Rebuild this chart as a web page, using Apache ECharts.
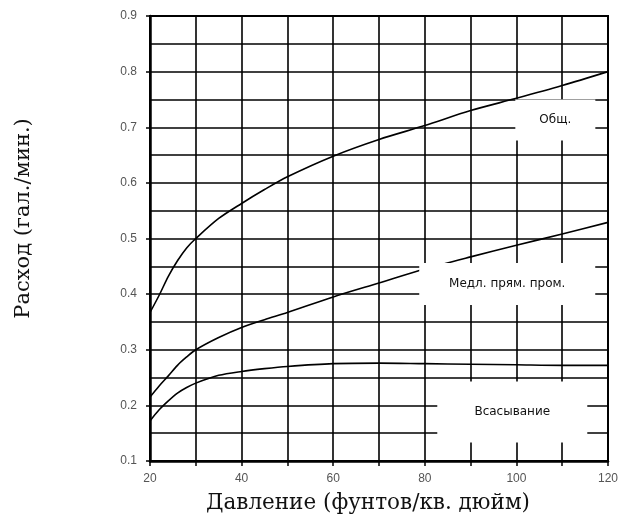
<!DOCTYPE html>
<html>
<head>
<meta charset="utf-8">
<script src="https://cdn.jsdelivr.net/npm/echarts@6/dist/echarts.min.js"></script>
<style>html,body{margin:0;padding:0;background:#fff;}#c{width:627px;height:519px;}</style>
</head>
<body>
<div id="c"></div>
<script>
var pressure = [20, 22, 24, 26, 28, 30, 35, 40, 45, 50, 60, 70, 80, 90, 100, 110, 120];
var totalFlow = [0.367, 0.398, 0.432, 0.460, 0.483, 0.500, 0.536, 0.563, 0.588, 0.611, 0.648, 0.678, 0.703, 0.730, 0.752, 0.775, 0.800];
var slowFlow  = [0.215, 0.235, 0.253, 0.272, 0.287, 0.300, 0.322, 0.340, 0.354, 0.367, 0.395, 0.420, 0.445, 0.467, 0.488, 0.508, 0.529];
var suctionFlow = [0.172, 0.192, 0.208, 0.222, 0.232, 0.240, 0.254, 0.261, 0.266, 0.270, 0.275, 0.276, 0.275, 0.274, 0.273, 0.272, 0.272];
var seriesNames = ['Общ.', 'Медл. прям. пром.', 'Всасывание'];
var labelX = [108.5, 98.0, 99.1];
var labelY = [0.713, 0.418, 0.188];
var xTitle = 'Давление (фунтов/кв. дюйм)';
var yTitle = 'Расход (гал./мин.)';

function pairs(xs, ys) { return xs.map(function (x, i) { return [x, ys[i]]; }); }

var chart = echarts.init(document.getElementById('c'), null, {renderer: 'canvas'});
var lineStyle = {color: '#000', width: 1.6};
var gridLine = {lineStyle: {color: '#000', width: 1.6}};
var boxSizes = [[80, 41], [176, 42], [150, 61]];
var labelSeries = seriesNames.map(function (n, i) {
  return {
    type: 'scatter', z: 10, symbol: 'rect', symbolSize: boxSizes[i],
    itemStyle: {color: '#fff', opacity: 1},
    data: [{name: n, value: [labelX[i], labelY[i]]}],
    label: {show: true, position: 'inside', formatter: '{b}', color: '#111',
      fontFamily: 'DejaVu Sans, Arial, sans-serif', fontSize: 12},
    silent: true
  };
});
chart.setOption({
  animation: false,
  backgroundColor: '#fff',
  grid: {left: 150, right: 19, top: 16, bottom: 58, show: true, borderColor: '#000', borderWidth: 2},
  xAxis: {
    type: 'value', min: 20, max: 120, interval: 20,
    name: xTitle, nameLocation: 'middle', nameGap: 31,
    nameTextStyle: {fontFamily: 'DejaVu Serif, serif', fontSize: 21.5, color: '#111', padding: [0, 22, 0, 0]},
    axisLine: {show: true, onZero: false, lineStyle: {color: '#000', width: 2.5}},
    axisTick: {show: true, length: 5, lineStyle: {color: '#000', width: 1.5}},
    minorTick: {show: true, splitNumber: 2, length: 5, lineStyle: {color: '#000', width: 1.5}},
    splitLine: gridLine,
    minorSplitLine: {show: true, lineStyle: {color: '#000', width: 1.6}},
    axisLabel: {color: '#555', fontSize: 12, fontFamily: 'Liberation Sans, Arial, sans-serif', margin: 12}
  },
  yAxis: {
    type: 'value', min: 0.1, max: 0.9, interval: 0.1,
    name: yTitle, nameLocation: 'middle', nameGap: 116, nameRotate: 90,
    nameTextStyle: {fontFamily: 'DejaVu Serif, serif', fontSize: 21, color: '#111', padding: [0, 0, 0, 40]},
    axisLine: {show: true, onZero: false, lineStyle: {color: '#000', width: 2.5}},
    axisTick: {show: true, length: 4, lineStyle: {color: '#000', width: 1.5}},
    minorTick: {show: false, splitNumber: 2},
    splitLine: gridLine,
    minorSplitLine: {show: true, lineStyle: {color: '#000', width: 1.6}},
    axisLabel: {color: '#555', fontSize: 12, fontFamily: 'Liberation Sans, Arial, sans-serif', margin: 13,
      formatter: function (v) { return v.toFixed(1); }}
  },
  series: [
    {type: 'line', name: seriesNames[0], data: pairs(pressure, totalFlow), smooth: 0.3, showSymbol: false, lineStyle: lineStyle, z: 3},
    {type: 'line', name: seriesNames[1], data: pairs(pressure, slowFlow), smooth: 0.3, showSymbol: false, lineStyle: lineStyle, z: 3},
    {type: 'line', name: seriesNames[2], data: pairs(pressure, suctionFlow), smooth: 0.3, showSymbol: false, lineStyle: lineStyle, z: 3}
  ].concat(labelSeries)
});
</script>
</body>
</html>
